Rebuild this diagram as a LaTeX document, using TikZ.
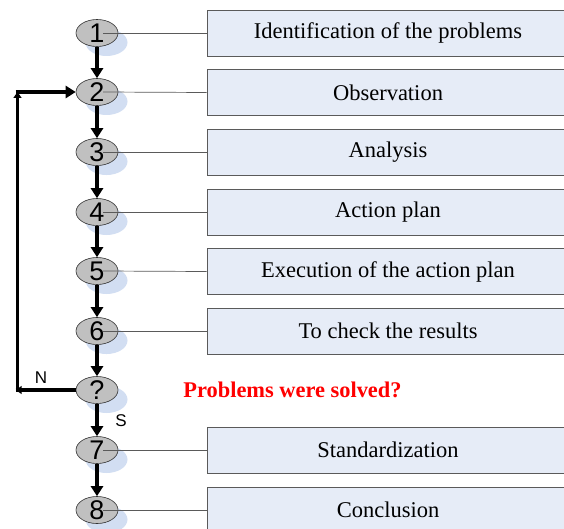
\documentclass[tikz,border=0pt]{standalone}
\usepackage{fontspec}
\setmainfont{Liberation Serif}
\newfontfamily\digitfont{Liberation Sans}
\usetikzlibrary{shapes.geometric,arrows.meta,shadows}
\definecolor{boxfill}{RGB}{230,236,247}
\definecolor{boxline}{RGB}{90,90,90}
\definecolor{ellfill}{RGB}{192,192,192}
\definecolor{shadowblue}{RGB}{210,222,242}
\definecolor{linkgray}{RGB}{90,90,90}
\tikzset{
  stepell/.style={ellipse, draw=black!80, line width=0.6pt, fill=ellfill,
    minimum width=42pt, minimum height=27pt, inner sep=0pt,
    font=\digitfont\fontsize{27}{27}\selectfont,
    drop shadow={shadow xshift=9.5pt, shadow yshift=-9.5pt, fill=shadowblue, opacity=1}},
  stepbox/.style={rectangle, draw=boxline, line width=0.8pt, fill=boxfill,
    minimum width=362pt, minimum height=46pt, inner sep=0pt,
    font=\fontsize{22.5}{27}\selectfont},
  flow/.style={line width=3.6pt, -{Triangle[length=10pt,width=12pt]}},
  corner/.style={line width=3.6pt, -{Triangle[length=6pt,width=8pt]}},
  link/.style={draw=linkgray, line width=0.7pt},
  lbl/.style={font=\digitfont\fontsize{17}{17}\selectfont}
}
\begin{document}
\begin{tikzpicture}[x=1pt,y=-1pt]
\useasboundingbox (0,0) rectangle (564,529);
\clip (0,0) rectangle (564,529);
% boxes
\node[stepbox] (b1) at (388,33) {\raisebox{-2pt}{Identification of the problems}};
\node[stepbox] (b2) at (388,92.5) {\raisebox{-1pt}{Observation}};
\node[stepbox] (b3) at (388,152) {\raisebox{-1pt}{Analysis}};
\node[stepbox] (b4) at (388,212) {\raisebox{-1pt}{Action plan}};
\node[stepbox] (b5) at (388,271.5) {\raisebox{-1pt}{Execution of the action plan}};
\node[stepbox] (b6) at (388,331) {\raisebox{-1pt}{To check the results}};
\node[stepbox] (b7) at (388,450) {\raisebox{-1pt}{Standardization}};
\node[stepbox] (b8) at (388,510) {\raisebox{-1pt}{Conclusion}};
% ellipses
\node[stepell] (e1) at (97,33) {1};
\node[stepell] (e2) at (97,92) {2};
\node[stepell] (e3) at (97,152) {3};
\node[stepell] (e4) at (97,212) {4};
\node[stepell] (e5) at (97,271) {5};
\node[stepell] (e6) at (97,331) {6};
\node[stepell] (eq) at (97,390) {?};
\node[stepell] (e7) at (97,450) {7};
\node[stepell] (e8) at (97,510) {8};
% links
\foreach \i in {1,2,3,4,5,6,7,8}{
  \draw[link] ([xshift=6pt]e\i.center) -- (b\i.west);
}
% flow arrows
\draw[flow] (e1.south) -- (e2.north);
\draw[flow] (e2.south) -- (e3.north);
\draw[flow] (e3.south) -- (e4.north);
\draw[flow] (e4.south) -- (e5.north);
\draw[flow] (e5.south) -- (e6.north);
\draw[flow] (e6.south) -- (eq.north);
\draw[flow] (eq.south) -- (e7.north);
\draw[flow] (e7.south) -- (e8.north);
% loop back
\coordinate (cl) at (17.5,390);
\coordinate (cu) at (17.5,92);
\draw[corner] (eq.west) -- ([xshift=-1.8pt]cl);
\draw[line width=3.6pt] ([xshift=-1.8pt]cl) -- (cl);
\draw[corner] ([yshift=1.8pt]cl) -- (cu);
\draw[flow] ([xshift=-1.8pt]cu) -- (e2.west);
% labels
\node[lbl] (ln) at (41,378) {N};
\node[lbl] (ls) at (121,421) {S};
\node[font=\bfseries\fontsize{22.4}{27}\selectfont, text=red] (q) at (292.5,390) {Problems were solved?};
\end{tikzpicture}
\end{document}
